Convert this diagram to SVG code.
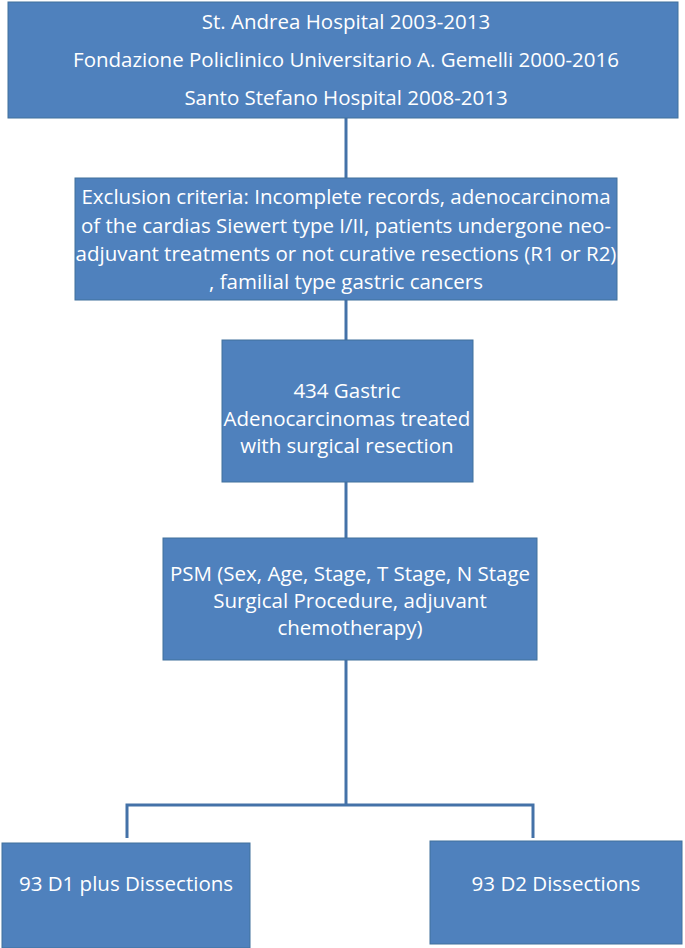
<svg xmlns="http://www.w3.org/2000/svg" width="685" height="948" viewBox="0 0 685 948">
<style>
.box{fill:#4F81BD;stroke:#41719C;stroke-width:1}
.t{font-family:"Open Sans","Liberation Sans",sans-serif;font-size:20.5px;fill:#ffffff;text-anchor:middle}
.c{fill:none;stroke:#4472A8;stroke-width:3}
</style>
<rect width="685" height="948" fill="#ffffff"/>
<g id="connectors">
<line class="c" x1="346" y1="118" x2="346" y2="178"/>
<line class="c" x1="346" y1="300" x2="346" y2="340"/>
<line class="c" x1="346" y1="482" x2="346" y2="538"/>
<polyline class="c" points="346,660 346,805"/>
<polyline class="c" points="127,838 127,805 533,805 533,838"/>
</g>
<g id="n1">
<rect class="box" x="8" y="2" width="670" height="116"/>
<text class="t" x="346" y="29">St. Andrea Hospital 2003-2013</text>
<text class="t" x="346" y="67">Fondazione Policlinico Universitario A. Gemelli 2000-2016</text>
<text class="t" x="346" y="105">Santo Stefano Hospital 2008-2013</text>
</g>
<g id="n2">
<rect class="box" x="75" y="178" width="542" height="122"/>
<text class="t" x="346" y="204">Exclusion criteria: Incomplete records, adenocarcinoma</text>
<text class="t" x="346" y="233">of the cardias Siewert type I/II, patients undergone neo-</text>
<text class="t" x="346" y="261">adjuvant treatments or not curative resections (R1 or R2)</text>
<text class="t" x="346" y="289">, familial type gastric cancers</text>
</g>
<g id="n3">
<rect class="box" x="222" y="340" width="251" height="142"/>
<text class="t" x="347" y="398">434 Gastric</text>
<text class="t" x="347" y="426">Adenocarcinomas treated</text>
<text class="t" x="347" y="453">with surgical resection</text>
</g>
<g id="n4">
<rect class="box" x="163" y="538" width="374" height="122"/>
<text class="t" x="350" y="581">PSM (Sex, Age, Stage, T Stage, N Stage</text>
<text class="t" x="350" y="608">Surgical Procedure, adjuvant</text>
<text class="t" x="350" y="635">chemotherapy)</text>
</g>
<g id="n5">
<rect class="box" x="2" y="843" width="248" height="105"/>
<text class="t" x="126" y="891">93 D1 plus Dissections</text>
</g>
<g id="n6">
<rect class="box" x="430" y="841" width="252" height="103"/>
<text class="t" x="556" y="891">93 D2 Dissections</text>
</g>
</svg>
